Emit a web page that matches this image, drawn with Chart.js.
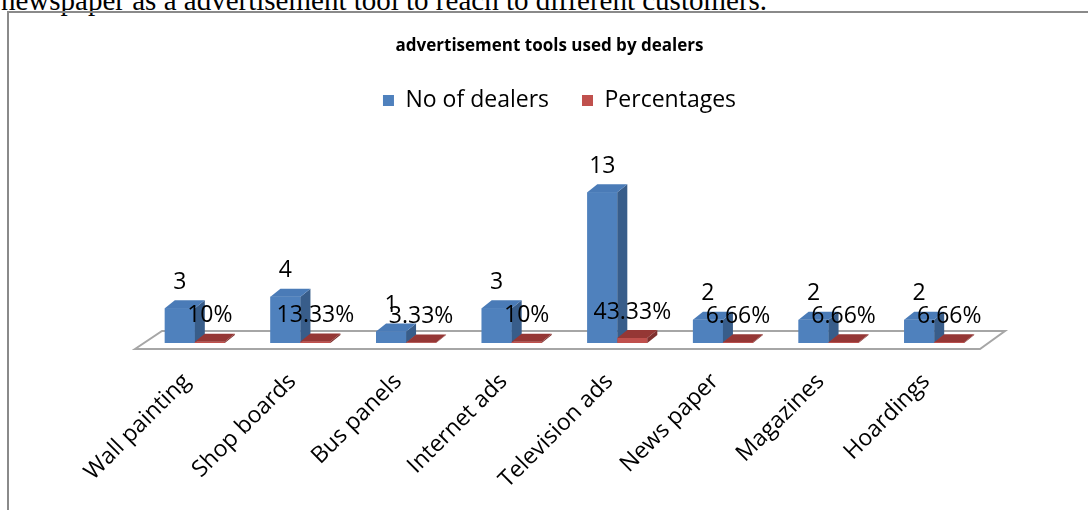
<!DOCTYPE html>
<html>
<head>
<meta charset="utf-8">
<title>advertisement tools used by dealers</title>
<script src="https://cdn.jsdelivr.net/npm/chart.js@4.4.1/dist/chart.umd.min.js"></script>
<style>
  body { margin: 0; background: #fff; width: 1088px; height: 510px; overflow: hidden; position: relative; }
  #lead { position: absolute; left: 1px; top: -14px; font-family: 'Liberation Serif', 'Times New Roman', serif; font-size: 29px; line-height: 29px; white-space: nowrap; color: #000; }
  #frame { position: absolute; left: 7px; top: 11px; width: 1200px; height: 600px; border: 2px solid #8a8a8a; }
  #chart { position: absolute; left: 0; top: 0; }
</style>
</head>
<body>
<div id="lead">newspaper as a advertisement tool to reach to different customers.</div>
<div id="frame"></div>
<canvas id="chart" width="1088" height="510"></canvas>
<script>
// Data
const categories = ['Wall painting', 'Shop boards', 'Bus panels', 'Internet ads',
  'Television ads', 'News paper', 'Magazines', 'Hoardings'];
const dealers = [3, 4, 1, 3, 13, 2, 2, 2];
const percentages = [0.10, 0.1333, 0.0333, 0.10, 0.4333, 0.0666, 0.0666, 0.0666];

// 3D look
const DX = 10, DY = 8;
const LEGEND_H = 124.8;
const FONT_SIZE = 23;

function poly(ctx, pts, color) {
  ctx.beginPath();
  ctx.moveTo(pts[0][0], pts[0][1]);
  for (let i = 1; i < pts.length; i++) ctx.lineTo(pts[i][0], pts[i][1]);
  ctx.closePath();
  ctx.fillStyle = color;
  ctx.fill();
}

function pctText(v) {
  return +(v * 100).toFixed(2) + '%';
}

function shiftBox(box, dx) {
  if (!box) return;
  box.left += dx;
  box.right += dx;
}

const bar3d = {
  id: 'bar3d',
  beforeLayout(chart) {
    // fixed legend height so the plot area lands in the same place
    const lg = chart.legend;
    if (lg && !lg._fixedFit) {
      const fit = lg.fit;
      lg.fit = function () { fit.call(this); this.height = LEGEND_H; };
      lg._fixedFit = true;
    }
  },
  afterLayout(chart) {
    // title and legend sit a little left of the plot centre
    shiftBox(chart.titleBlock, -15);
    shiftBox(chart.legend, -5);
  },
  beforeDatasetsDraw(chart) {
    const { ctx, chartArea: a, scales: { y } } = chart;
    const base = y.getPixelForValue(0);
    ctx.save();
    ctx.beginPath();
    ctx.moveTo(a.left - 7, base + 6);
    ctx.lineTo(a.left + 20, base - 12);
    ctx.lineTo(a.right + 18, base - 12);
    ctx.lineTo(a.right - 7, base + 6);
    ctx.closePath();
    ctx.fillStyle = '#fff';
    ctx.fill();
    ctx.lineWidth = 2;
    ctx.strokeStyle = '#a6a6a6';
    ctx.stroke();
    ctx.restore();
  },
  afterDatasetsDraw(chart) {
    const ctx = chart.ctx;
    ctx.save();
    for (let i = 0; i < categories.length; i++) {
      chart.data.datasets.forEach((ds, d) => {
        const bar = chart.getDatasetMeta(d).data[i];
        const { x, y, base, width } = bar.getProps(['x', 'y', 'base', 'width'], true);
        const l = x - width / 2, r = x + width / 2;
        ctx.fillStyle = ds.backgroundColor;
        ctx.fillRect(l, y, width, base - y);
        poly(ctx, [[r, y], [r + DX, y - DY], [r + DX, base - DY], [r, base]], ds.sideColor);
        poly(ctx, [[l, y], [l + DX, y - DY], [r + DX, y - DY], [r, y]], ds.topColor);
      });
    }
    // value labels
    ctx.font = FONT_SIZE + "px 'Open Sans'";
    ctx.fillStyle = '#000';
    ctx.textAlign = 'center';
    ctx.textBaseline = 'middle';
    chart.data.datasets.forEach((ds, d) => {
      chart.getDatasetMeta(d).data.forEach((bar, i) => {
        const { x, y } = bar.getProps(['x', 'y'], true);
        const txt = d === 0 ? String(dealers[i]) : pctText(percentages[i]);
        ctx.fillText(txt, x, y - 26);
      });
    });
    ctx.restore();
  }
};

Chart.defaults.font.family = "'Open Sans', sans-serif";
Chart.defaults.color = '#000';

new Chart(document.getElementById('chart'), {
  type: 'bar',
  data: {
    labels: categories,
    datasets: [
      {
        label: 'No of dealers',
        data: dealers,
        backgroundColor: '#4f81bd',
        sideColor: '#385d8a',
        topColor: '#4a7bb7'
      },
      {
        label: 'Percentages',
        data: percentages,
        backgroundColor: '#c0504d',
        sideColor: '#7f302e',
        topColor: '#953735'
      }
    ]
  },
  options: {
    responsive: false,
    animation: false,
    devicePixelRatio: 1,
    barPercentage: 1,
    categoryPercentage: 0.568,
    layout: { padding: { left: 142, right: 101, top: 0, bottom: 0 } },
    plugins: {
      tooltip: { enabled: false },
      title: {
        display: true,
        text: 'advertisement tools used by dealers',
        font: { size: 17, weight: 'bold' },
        padding: { top: 35.5, bottom: 0 }
      },
      legend: {
        position: 'top',
        labels: {
          font: { size: FONT_SIZE },
          boxWidth: 11,
          boxHeight: 11,
          padding: 33
        }
      }
    },
    scales: {
      x: {
        grid: { display: false, drawTicks: false },
        border: { display: false },
        ticks: {
          font: { size: FONT_SIZE },
          minRotation: 45,
          maxRotation: 45,
          autoSkip: false,
          padding: 25,
          labelOffset: -8
        },
        afterFit(scale) { scale.height = 167; }
      },
      y: {
        display: false,
        min: 0,
        max: 14
      }
    }
  },
  plugins: [bar3d]
});
</script>
</body>
</html>
